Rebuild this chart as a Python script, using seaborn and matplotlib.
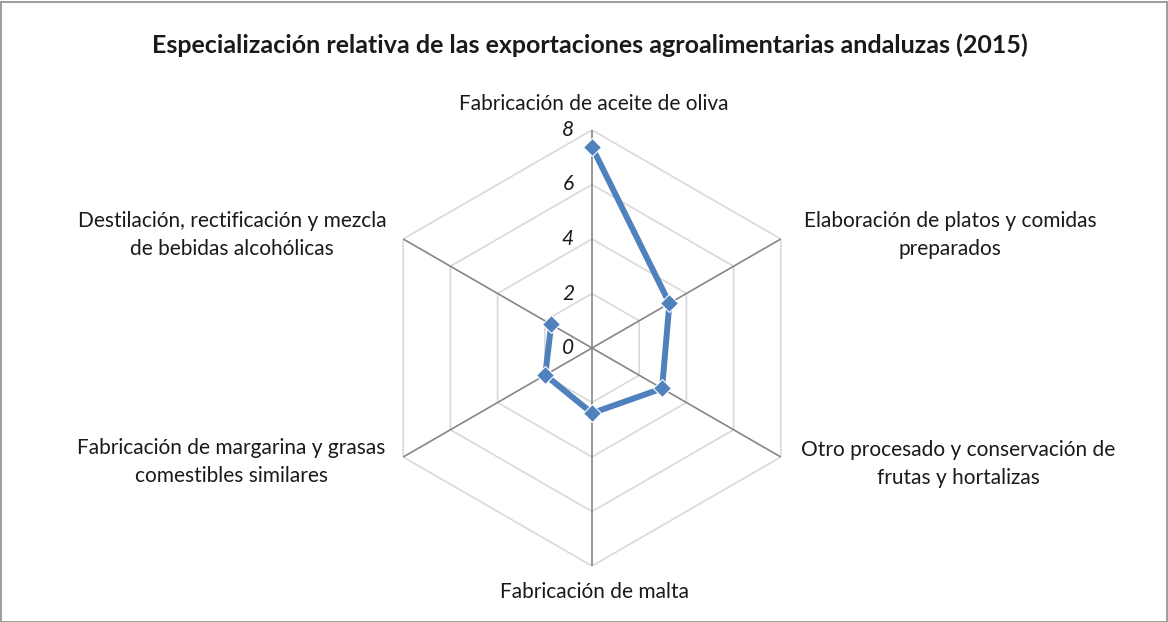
import numpy as np
import pandas as pd
import matplotlib
matplotlib.use("Agg")
import matplotlib.pyplot as plt
import matplotlib.transforms as mtransforms
from matplotlib.patches import Rectangle
import seaborn as sns

# --- datos ---
categorias = [
    "Fabricación de aceite de oliva",
    "Elaboración de platos y comidas\npreparados",
    "Otro procesado y conservación de\nfrutas y hortalizas",
    "Fabricación de malta",
    "Fabricación de margarina y grasas\ncomestibles similares",
    "Destilación, rectificación y mezcla\nde bebidas alcohólicas",
]
valores = [7.38, 3.28, 2.97, 2.39, 1.98, 1.73]
niveles = [0, 2, 4, 6, 8]

sns.set_theme(style="white")
plt.rcParams["font.family"] = ["Lato", "DejaVu Sans"]

W, H = 1168, 622
fig = plt.figure(figsize=(W / 100, H / 100), dpi=100)

# marco exterior
fig.patches.append(Rectangle((0.5 / W, 0.5 / H), 1 - 2 / W, 1 - 2 / H,
                             transform=fig.transFigure, fill=False,
                             edgecolor="#8c8c8c", linewidth=1.2))

cx, cy, rad = 592, 348, 218
ax = fig.add_axes([(cx - rad) / W, (H - cy - rad) / H, 2 * rad / W, 2 * rad / H],
                  projection="polar")
ax.set_theta_offset(np.pi / 2)
ax.set_theta_direction(-1)
ax.set_ylim(0, max(niveles))
ax.grid(False)
ax.set_xticks([])
ax.set_yticks([])
ax.spines["polar"].set_visible(False)
ax.patch.set_alpha(0)

n = len(categorias)
ang = np.linspace(0, 2 * np.pi, n, endpoint=False)
ang_c = np.append(ang, ang[0])

# rejilla hexagonal
for lv in niveles[1:]:
    ax.plot(ang_c, [lv] * (n + 1), color="#d9d9d9", lw=1.2, zorder=1)
for a in ang:
    ax.plot([a, a], [0, niveles[-1]], color="#868686", lw=1.2, zorder=1)

# serie
df = pd.DataFrame({"ang": ang_c, "val": valores + [valores[0]]})
sns.lineplot(data=df, x="ang", y="val", sort=False, ax=ax, color="#4F81BD",
             lw=4.3, marker="D", markersize=9.5, markeredgecolor="white",
             markeredgewidth=0.8, zorder=3)
ax.set_xlabel("")
ax.set_ylabel("")

# etiquetas del eje radial
off = mtransforms.offset_copy(ax.transData, fig=fig, x=-24, y=0, units="dots")
for lv in niveles:
    ax.text(0, lv, str(lv), transform=off, ha="center", va="center",
            fontsize=15, style="italic", color="#1a1a1a")

# etiquetas de categorías
pos = [(594, 104), (950, 235), (958, 464), (594, 592), (231, 462), (232, 235)]
for txt, (px, py) in zip(categorias, pos):
    fig.text(px / W, 1 - py / H, txt, ha="center", va="center",
             fontsize=15, color="#1a1a1a", linespacing=1.45)

fig.text(590 / W, 1 - 45 / H,
         "Especialización relativa de las exportaciones agroalimentarias andaluzas (2015)",
         ha="center", va="center", fontsize=18, fontweight="bold", color="#1a1a1a")

fig.savefig("out.png", dpi=100)
